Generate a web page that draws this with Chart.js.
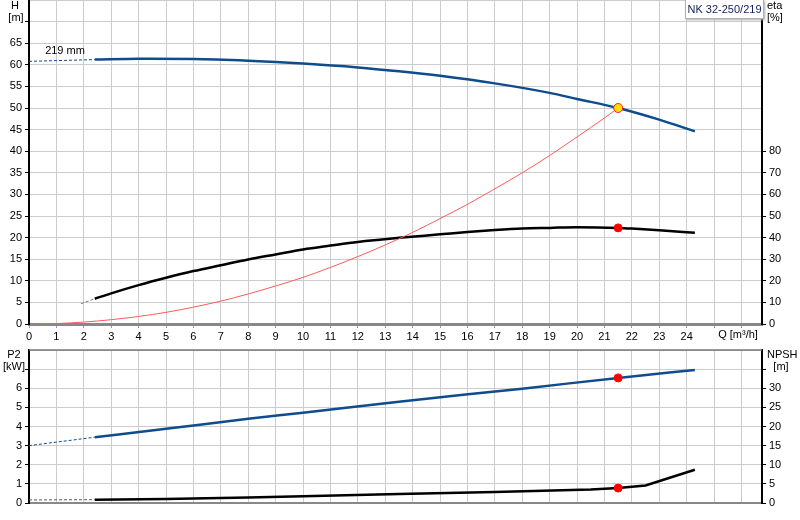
<!DOCTYPE html>
<html>
<head>
<meta charset="utf-8">
<script src="https://cdn.jsdelivr.net/npm/chart.js@4.4.1/dist/chart.umd.min.js"></script>
<style>
  body { margin: 0; background: #fff; width: 800px; height: 520px; position: relative; overflow: hidden;
         font-family: "Liberation Sans", Arial, sans-serif; }
  canvas { position: absolute; left: 0; }
  #topChart { top: 0; }
  #botChart { top: 345px; }
  #nk { position: absolute; left: 685px; top: 0; width: 77px; height: 18px; background: #fff;
        border: 1px solid #b0b0b0; border-top: none; box-shadow: 1px 1px 2px #aaa;
        font-size: 11px; color: #12205a; line-height: 18px; text-align: center; }
</style>
</head>
<body>
<canvas id="topChart" width="800" height="345"></canvas>
<canvas id="botChart" width="800" height="175"></canvas>
<div id="nk">NK 32-250/219</div>
<script>
// Q-H courbe (solide + prolongement pointillé)
var qH = [2.4, 4, 6, 8, 10, 12, 13.5, 15, 17, 19, 20, 21.5, 23, 24.3];
var hVals = [61.2, 61.4, 61.35, 60.95, 60.3, 59.4, 58.5, 57.45, 55.7, 53.5, 52.1, 50.0, 47.3, 44.6];
var qHExt = [0, 2.4];
var hExt = [60.8, 61.2];

// rendement eta [%]
var qEta = [2.4, 3, 4, 5, 6, 7, 8, 9, 10, 11, 12, 13.5, 15, 16, 17, 18, 19, 20, 21.5, 22, 23, 24.3];
var etaVals = [11.7, 14.2, 18, 21.4, 24.5, 27.2, 29.9, 32.2, 34.5, 36.3, 38, 39.9, 41.5, 42.6, 43.5, 44.2, 44.5, 44.8, 44.5, 44.2, 43.4, 42.2];
var qEtaExt = [1.9, 2.4];
var etaExt = [9.4, 11.7];

// courbe réseau (rouge)
var qSys = [0.2, 1, 2, 3, 4, 5, 6, 7, 8, 9, 10, 11, 12, 13, 14, 15, 16, 17, 18, 19, 20, 21, 21.5];
var hSys = [0, 0.1, 0.45, 1.0, 1.75, 2.7, 3.9, 5.3, 6.95, 8.8, 10.8, 13.1, 15.6, 18.3, 21.2, 24.4, 27.7, 31.3, 35.0, 39.0, 43.3, 47.7, 50.0];

// puissance P2 [kW]
var qP2 = [2.4, 5, 8, 10, 13.5, 18, 21.5, 24.3];
var p2Vals = [3.44, 3.88, 4.4, 4.72, 5.3, 5.98, 6.54, 6.96];
var qP2Ext = [0, 2.4];
var p2Ext = [3.0, 3.44];

// NPSH [m]
var qNpsh = [2.4, 5, 8, 10, 13.5, 17, 20.5, 21.5, 22.5, 24.3];
var npshVals = [0.87, 1.05, 1.45, 1.75, 2.35, 2.9, 3.5, 3.9, 4.6, 8.7];
var qNpshExt = [0, 2.4];
var npshExt = [0.8, 0.87];

// point de fonctionnement
var qDuty = 21.5;
var hDuty = 50.0;
var etaDuty = 44.5;
var p2Duty = 6.54;
var npshDuty = 3.9;

var blue = '#0f4c8c';
var font = { family: '"Liberation Sans", Arial, sans-serif', size: 11 };

function pts(xs, ys) {
    return xs.map(function (x, i) { return { x: x, y: ys[i] }; });
}

// petits textes sur le canvas
function textPlugin(items, extra) {
    return {
        id: 'texts',
        afterDraw: function (chart) {
            var ctx = chart.ctx;
            ctx.save();
            if (extra) extra(chart, ctx);
            ctx.font = '11px "Liberation Sans", Arial, sans-serif';
            ctx.fillStyle = '#000';
            ctx.textBaseline = 'middle';
            items.forEach(function (t) {
                ctx.textAlign = t.align || 'center';
                ctx.fillText(t.text, t.x, t.y);
            });
            ctx.restore();
        }
    };
}

function xScale(showTicks, height) {
    return {
        type: 'linear', min: 0, max: 26.75,
        ticks: {
            display: showTicks, stepSize: 1, autoSkip: false, maxRotation: 0, includeBounds: false,
            color: '#000', font: font, padding: 2,
            callback: function (v) { return v <= 24 ? String(v) : ''; }
        },
        grid: { color: '#cccccc', tickLength: 4, drawTicks: showTicks, tickColor: '#999' },
        border: { color: '#888', width: 3 },
        afterFit: function (s) { s.height = height; s.paddingLeft = 0; s.paddingRight = 0; }
    };
}

function yScale(pos, max, step, lastLabel, lastTick, width) {
    return {
        type: 'linear', position: pos, min: 0, max: max,
        ticks: {
            stepSize: step, color: '#000', font: font, padding: 3, includeBounds: false,
            callback: function (v) { return v <= lastLabel ? String(v) : ''; }
        },
        grid: {
            color: '#cccccc', drawOnChartArea: pos === 'left', tickLength: 4,
            tickColor: function (c) { return c.tick && c.tick.value <= lastTick ? '#000' : 'rgba(0,0,0,0)'; }
        },
        border: { color: '#000', width: 2 },
        afterFit: function (s) { s.width = width; s.paddingTop = 0; s.paddingBottom = 0; }
    };
}

document.addEventListener('DOMContentLoaded', function () {
    var ctx1 = document.getElementById('topChart').getContext('2d');
    var topChart = new Chart(ctx1, {
        type: 'line',
        data: {
            datasets: [
                { data: [{ x: qDuty, y: hDuty }], yAxisID: 'yH', showLine: false, order: 0,
                  pointRadius: 4.5, pointBackgroundColor: '#ffe000', pointBorderColor: '#ff2020', pointBorderWidth: 1 },
                { data: [{ x: qDuty, y: etaDuty }], yAxisID: 'yEta', showLine: false, order: 0,
                  pointRadius: 4, pointBackgroundColor: '#ff0000', pointBorderColor: '#ff0000' },
                { data: pts(qH, hVals), yAxisID: 'yH', borderColor: blue, borderWidth: 2.5, order: 2,
                  pointRadius: 0, cubicInterpolationMode: 'monotone' },
                { data: pts(qHExt, hExt), yAxisID: 'yH', borderColor: blue, borderWidth: 1, borderDash: [3, 2],
                  order: 2, pointRadius: 0 },
                { data: pts(qEta, etaVals), yAxisID: 'yEta', borderColor: '#000', borderWidth: 2.5, order: 2,
                  pointRadius: 0, cubicInterpolationMode: 'monotone' },
                { data: pts(qEtaExt, etaExt), yAxisID: 'yEta', borderColor: '#777', borderWidth: 1, borderDash: [3, 2],
                  order: 2, pointRadius: 0 },
                { data: pts(qSys, hSys), yAxisID: 'yH', borderColor: '#ff5a5a', borderWidth: 1, order: 1,
                  pointRadius: 0, cubicInterpolationMode: 'monotone' }
            ]
        },
        options: {
            responsive: false, animation: false,
            layout: { padding: 0, autoPadding: false },
            plugins: { legend: { display: false }, tooltip: { enabled: false } },
            scales: {
                x: xScale(true, 21),
                yH: yScale('left', 75, 5, 65, 70, 29),
                yEta: yScale('right', 150, 10, 80, 80, 38)
            }
        },
        plugins: [textPlugin([
            { text: 'H', x: 15, y: 6 },
            { text: '[m]', x: 16, y: 18 },
            { text: 'eta', x: 767, y: 6, align: 'left' },
            { text: '[%]', x: 767, y: 18, align: 'left' },
            { text: 'Q [m\u00b3/h]', x: 738, y: 335 },
            { text: '219 mm', x: 65, y: 51 }
        ])]
    });

    var ctx2 = document.getElementById('botChart').getContext('2d');
    var botChart = new Chart(ctx2, {
        type: 'line',
        data: {
            datasets: [
                { data: [{ x: qDuty, y: p2Duty }], yAxisID: 'yP', showLine: false, order: 0,
                  pointRadius: 4, pointBackgroundColor: '#ff0000', pointBorderColor: '#ff0000' },
                { data: [{ x: qDuty, y: npshDuty }], yAxisID: 'yN', showLine: false, order: 0,
                  pointRadius: 4, pointBackgroundColor: '#ff0000', pointBorderColor: '#ff0000' },
                { data: pts(qP2, p2Vals), yAxisID: 'yP', borderColor: blue, borderWidth: 2.5, order: 1,
                  pointRadius: 0, cubicInterpolationMode: 'monotone' },
                { data: pts(qP2Ext, p2Ext), yAxisID: 'yP', borderColor: blue, borderWidth: 1, borderDash: [3, 2],
                  order: 1, pointRadius: 0 },
                { data: pts(qNpsh, npshVals), yAxisID: 'yN', borderColor: '#000', borderWidth: 2.5, order: 1,
                  pointRadius: 0, tension: 0 },
                { data: pts(qNpshExt, npshExt), yAxisID: 'yN', borderColor: '#555', borderWidth: 1, borderDash: [3, 2],
                  order: 1, pointRadius: 0 }
            ]
        },
        options: {
            responsive: false, animation: false,
            layout: { padding: { top: 5 }, autoPadding: false },
            plugins: { legend: { display: false }, tooltip: { enabled: false } },
            scales: {
                x: Object.assign(xScale(false, 17), { border: { color: '#888', width: 2 } }),
                yP: yScale('left', 8, 1, 6, 7, 29),
                yN: yScale('right', 40, 5, 30, 35, 38)
            }
        },
        plugins: [textPlugin([
            { text: 'P2', x: 14, y: 10 },
            { text: '[kW]', x: 14, y: 22 },
            { text: 'NPSH', x: 767, y: 10, align: 'left' },
            { text: '[m]', x: 781, y: 22 }
        ], function (chart, ctx) {
            // bord supérieur du panneau
            var a = chart.chartArea;
            ctx.strokeStyle = '#777';
            ctx.lineWidth = 1.5;
            ctx.beginPath();
            ctx.moveTo(a.left, a.top);
            ctx.lineTo(a.right, a.top);
            ctx.stroke();
        })]
    });
});
</script>
</body>
</html>
